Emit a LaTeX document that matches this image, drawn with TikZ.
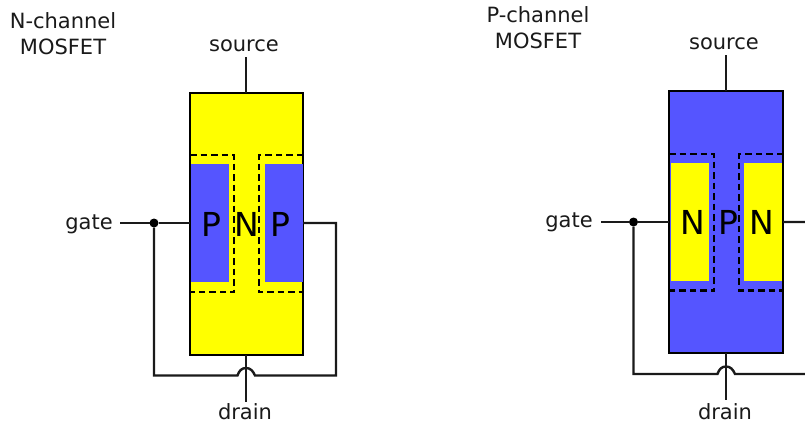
\documentclass[tikz,border=0pt]{standalone}
\usepackage{fontspec}
\setmainfont{DejaVu Sans}
\definecolor{pblue}{HTML}{5555FF}
\definecolor{nyellow}{HTML}{FFFF00}
\definecolor{ink}{HTML}{1A1A1A}
\tikzset{
  wire/.style={draw=ink,line width=2.4pt,line cap=butt,line join=miter},
  body/.style={draw=black,line width=2.4pt,inner sep=0pt,outer sep=0pt,anchor=north west},
  region/.style={inner sep=0pt,outer sep=0pt,anchor=north west,minimum width=38pt,minimum height=118pt},
  dashline/.style={draw=black,line width=2.2pt,dash pattern=on 6.5pt off 4pt},
  lbl/.style={font=\fontsize{21}{25}\selectfont,text=ink,inner sep=0pt,outer sep=0pt},
  title/.style={font=\fontsize{21}{26}\selectfont,text=ink,align=center,inner sep=0pt},
  big/.style={font=\fontsize{33}{38}\selectfont,text=black,inner sep=0pt},
  junction/.style={circle,fill=black,minimum size=9pt,inner sep=0pt,outer sep=0pt},
}
\begin{document}
\begin{tikzpicture}[x=1pt,y=-1pt]
\path[clip] (0,0) rectangle (805,423);
\fill[white] (0,0) rectangle (805,423);
% --- N-channel
\node[title] (ntitle) at (63,34) {N-channel\\MOSFET};
\node[lbl] (nsource) at (244,46) {source};
\node[lbl] (ngate) at (89,224) {gate};
\node[lbl,anchor=base] (ndrain) at (245,419.5) {drain};
\node[body,fill=nyellow,minimum width=113pt,minimum height=262pt] (nbody) at (190,93) {};
\node[region,fill=pblue] (nleft) at (191,164) {};
\node[region,fill=pblue] (nright) at (264.5,164) {};
\draw[dashline] (190,155) -- (234,155) -- (234,292) -- (190,292);
\draw[dashline] (303,155) -- (259,155) -- (259,292) -- (303,292);
\node[big] (nl) at (211,224) {P};
\node[big] (nc) at (247,224) {N};
\node[big] (nr) at (280,224) {P};
\coordinate (nsrcend) at (246,57);
\coordinate (ngatestart) at (120,223);
\coordinate (ndrainend) at (246,402);
\node[junction] (nj) at (154,223) {};
\coordinate (nbl) at (154,375.5);
\coordinate (ngr) at (303,223);
\coordinate (ntr) at (336,223);
\coordinate (nbr) at (336,375.5);
\coordinate (njl) at (237.5,375.5);
\coordinate (njr) at (255,375.5);
\coordinate (nbodyl) at (190,223);
\draw[wire] (nsrcend) -- (246,93);
\draw[wire] (246,355) -- (ndrainend);
\draw[wire] (ngatestart) -- (nj) -- (nbodyl);
\draw[wire] (nj) -- (nbl) -- (njl) .. controls (239,371) and (241.5,368) .. (246,368) .. controls (250.5,368) and (253,371) .. (njr) -- (nbr) -- (ntr) -- (ngr);
% --- P-channel
\node[title] (ptitle) at (538,28) {P-channel\\MOSFET};
\node[lbl] (psource) at (724,44) {source};
\node[lbl] (pgate) at (569,222) {gate};
\node[lbl,anchor=base] (pdrain) at (725,419) {drain};
\node[body,fill=pblue,minimum width=114pt,minimum height=262pt] (pbody) at (669,91) {};
\node[region,fill=nyellow] (pleft) at (670.5,163) {};
\node[region,fill=nyellow] (pright) at (744,163) {};
\draw[dashline] (669,154) -- (714,154) -- (714,290.5) -- (669,290.5);
\draw[dashline] (783,154) -- (739,154) -- (739,290.5) -- (783,290.5);
\node[big] (pl) at (692.5,222) {N};
\node[big] (pc) at (728,222) {P};
\node[big] (pr) at (762,222) {N};
\coordinate (psrcend) at (726,55);
\coordinate (pgatestart) at (601,222);
\coordinate (pdrainend) at (726,400);
\node[junction] (pj) at (633.5,222) {};
\coordinate (pbl) at (633.5,374);
\coordinate (pgr) at (783,222);
\coordinate (ptr) at (815,222);
\coordinate (pbr) at (815,374);
\coordinate (pjl) at (717.5,374);
\coordinate (pjr) at (735,374);
\coordinate (pbodyl) at (669,222);
\draw[wire] (psrcend) -- (726,91);
\draw[wire] (726,353) -- (pdrainend);
\draw[wire] (pgatestart) -- (pj) -- (pbodyl);
\draw[wire] (pj) -- (pbl) -- (pjl) .. controls (719,369.5) and (721.5,366.5) .. (726,366.5) .. controls (730.5,366.5) and (733,369.5) .. (pjr) -- (pbr) -- (ptr) -- (pgr);
\end{tikzpicture}
\end{document}
